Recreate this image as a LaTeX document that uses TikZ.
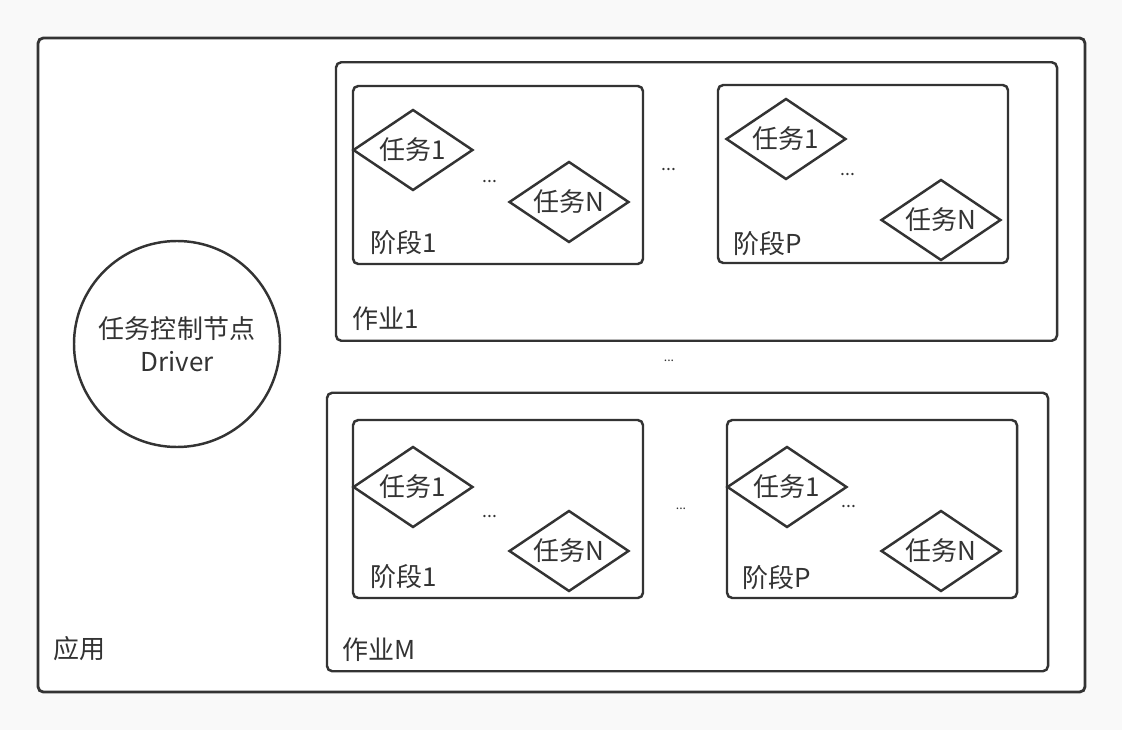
\documentclass[tikz,border=0pt]{standalone}
\usepackage{fontspec}
\setmainfont{Noto Sans CJK SC}
\usepackage{xcolor}
\definecolor{ddInk} {RGB}{ 51,  51,  51}
\definecolor{ddBack}{RGB}{249, 249, 249}
\usepackage{tikz}
\usetikzlibrary{
  positioning,
  shapes.geometric,
}

\begin{document}
\begin{tikzpicture}[
  box/.style={draw=ddInk, fill=white, rounded corners=3pt, line width=1.4pt,
              inner sep=0pt},
  app/.style={box, line width=1.6pt, minimum width=20.94cm, minimum height=13.08cm},
  job/.style={box, minimum width=14.42cm, minimum height=5.57cm},
  stage/.style={box, minimum width=5.80cm, minimum height=3.56cm},
  task/.style={diamond, aspect=1.5, draw=ddInk, fill=white, line width=1.4pt,
               inner sep=0pt, minimum width=2.40cm, minimum height=1.62cm,
               text=ddInk, font=\fontsize{14.8}{17}\selectfont},
  drv/.style={circle, draw=ddInk, fill=white, line width=1.4pt,
              minimum size=4.12cm, align=center, text=ddInk,
              font=\fontsize{14.8}{18.8}\selectfont},
  % labels sit at the lower left corner of their box
  lbl/.style={anchor=west, inner sep=0pt, text=ddInk,
              font=\fontsize{14.8}{17}\selectfont},
  dots/.style={inner sep=0pt, text=ddInk, font=\fontsize{10}{12}\selectfont},
  tinydots/.style={dots, font=\fontsize{7}{8}\selectfont},
]
  % page and background
  \fill[ddBack] (0,0) rectangle (22.44,14.60);
  \useasboundingbox (0,0) rectangle (22.44,14.60);

  % application
  \node[app]   (app) at (11.23, 7.30) {};
  \node[lbl]   (appl) at (1.06, 1.62) {应用};
  \node[drv]   (drv) at (3.54, 7.72) {任务控制节点\\Driver};

  % job 1
  \node[job]   (j1)  at (13.93,10.57) {};
  \node[lbl]   (j1l) at (7.04, 8.22) {作业1};
  \node[stage] (j1s1) at (9.96,11.10) {};
  \node[stage] (j1sp) at (17.26,11.12) {};
  \node[dots]  (j1d) at (13.38,11.20) {...};

  \node[task]  (j1s1a) at (8.26,11.60) {任务1};
  \node[task]  (j1s1n) at (11.38,10.56) {任务N};
  \node[dots]  (j1s1d) at (9.80,10.96) {...};
  \node[lbl]   (j1s1l) at (7.40, 9.74) {阶段1};

  \node[task]  (j1spa) at (15.72,11.82) {任务1};
  \node[task]  (j1spn) at (18.82,10.20) {任务N};
  \node[dots]  (j1spd) at (16.96,11.10) {...};
  \node[lbl]   (j1spl) at (14.66, 9.72) {阶段P};

  % between jobs
  \node[tinydots] (jd) at (13.38, 7.38) {...};

  % job M
  \node[job]   (jm)  at (13.75, 3.96) {};
  \node[lbl]   (jml) at (6.84, 1.60) {作业M};
  \node[stage] (jms1) at (9.96, 4.42) {};
  \node[stage] (jmsp) at (17.44, 4.42) {};
  \node[tinydots] (jmd) at (13.62, 4.42) {...};

  \node[task]  (jms1a) at (8.26, 4.86) {任务1};
  \node[task]  (jms1n) at (11.38, 3.58) {任务N};
  \node[dots]  (jms1d) at (9.80, 4.26) {...};
  \node[lbl]   (jms1l) at (7.40, 3.06) {阶段1};

  \node[task]  (jmspa) at (15.74, 4.86) {任务1};
  \node[task]  (jmspn) at (18.82, 3.58) {任务N};
  \node[dots]  (jmspd) at (16.98, 4.46) {...};
  \node[lbl]   (jmspl) at (14.84, 3.04) {阶段P};
\end{tikzpicture}
\end{document}
